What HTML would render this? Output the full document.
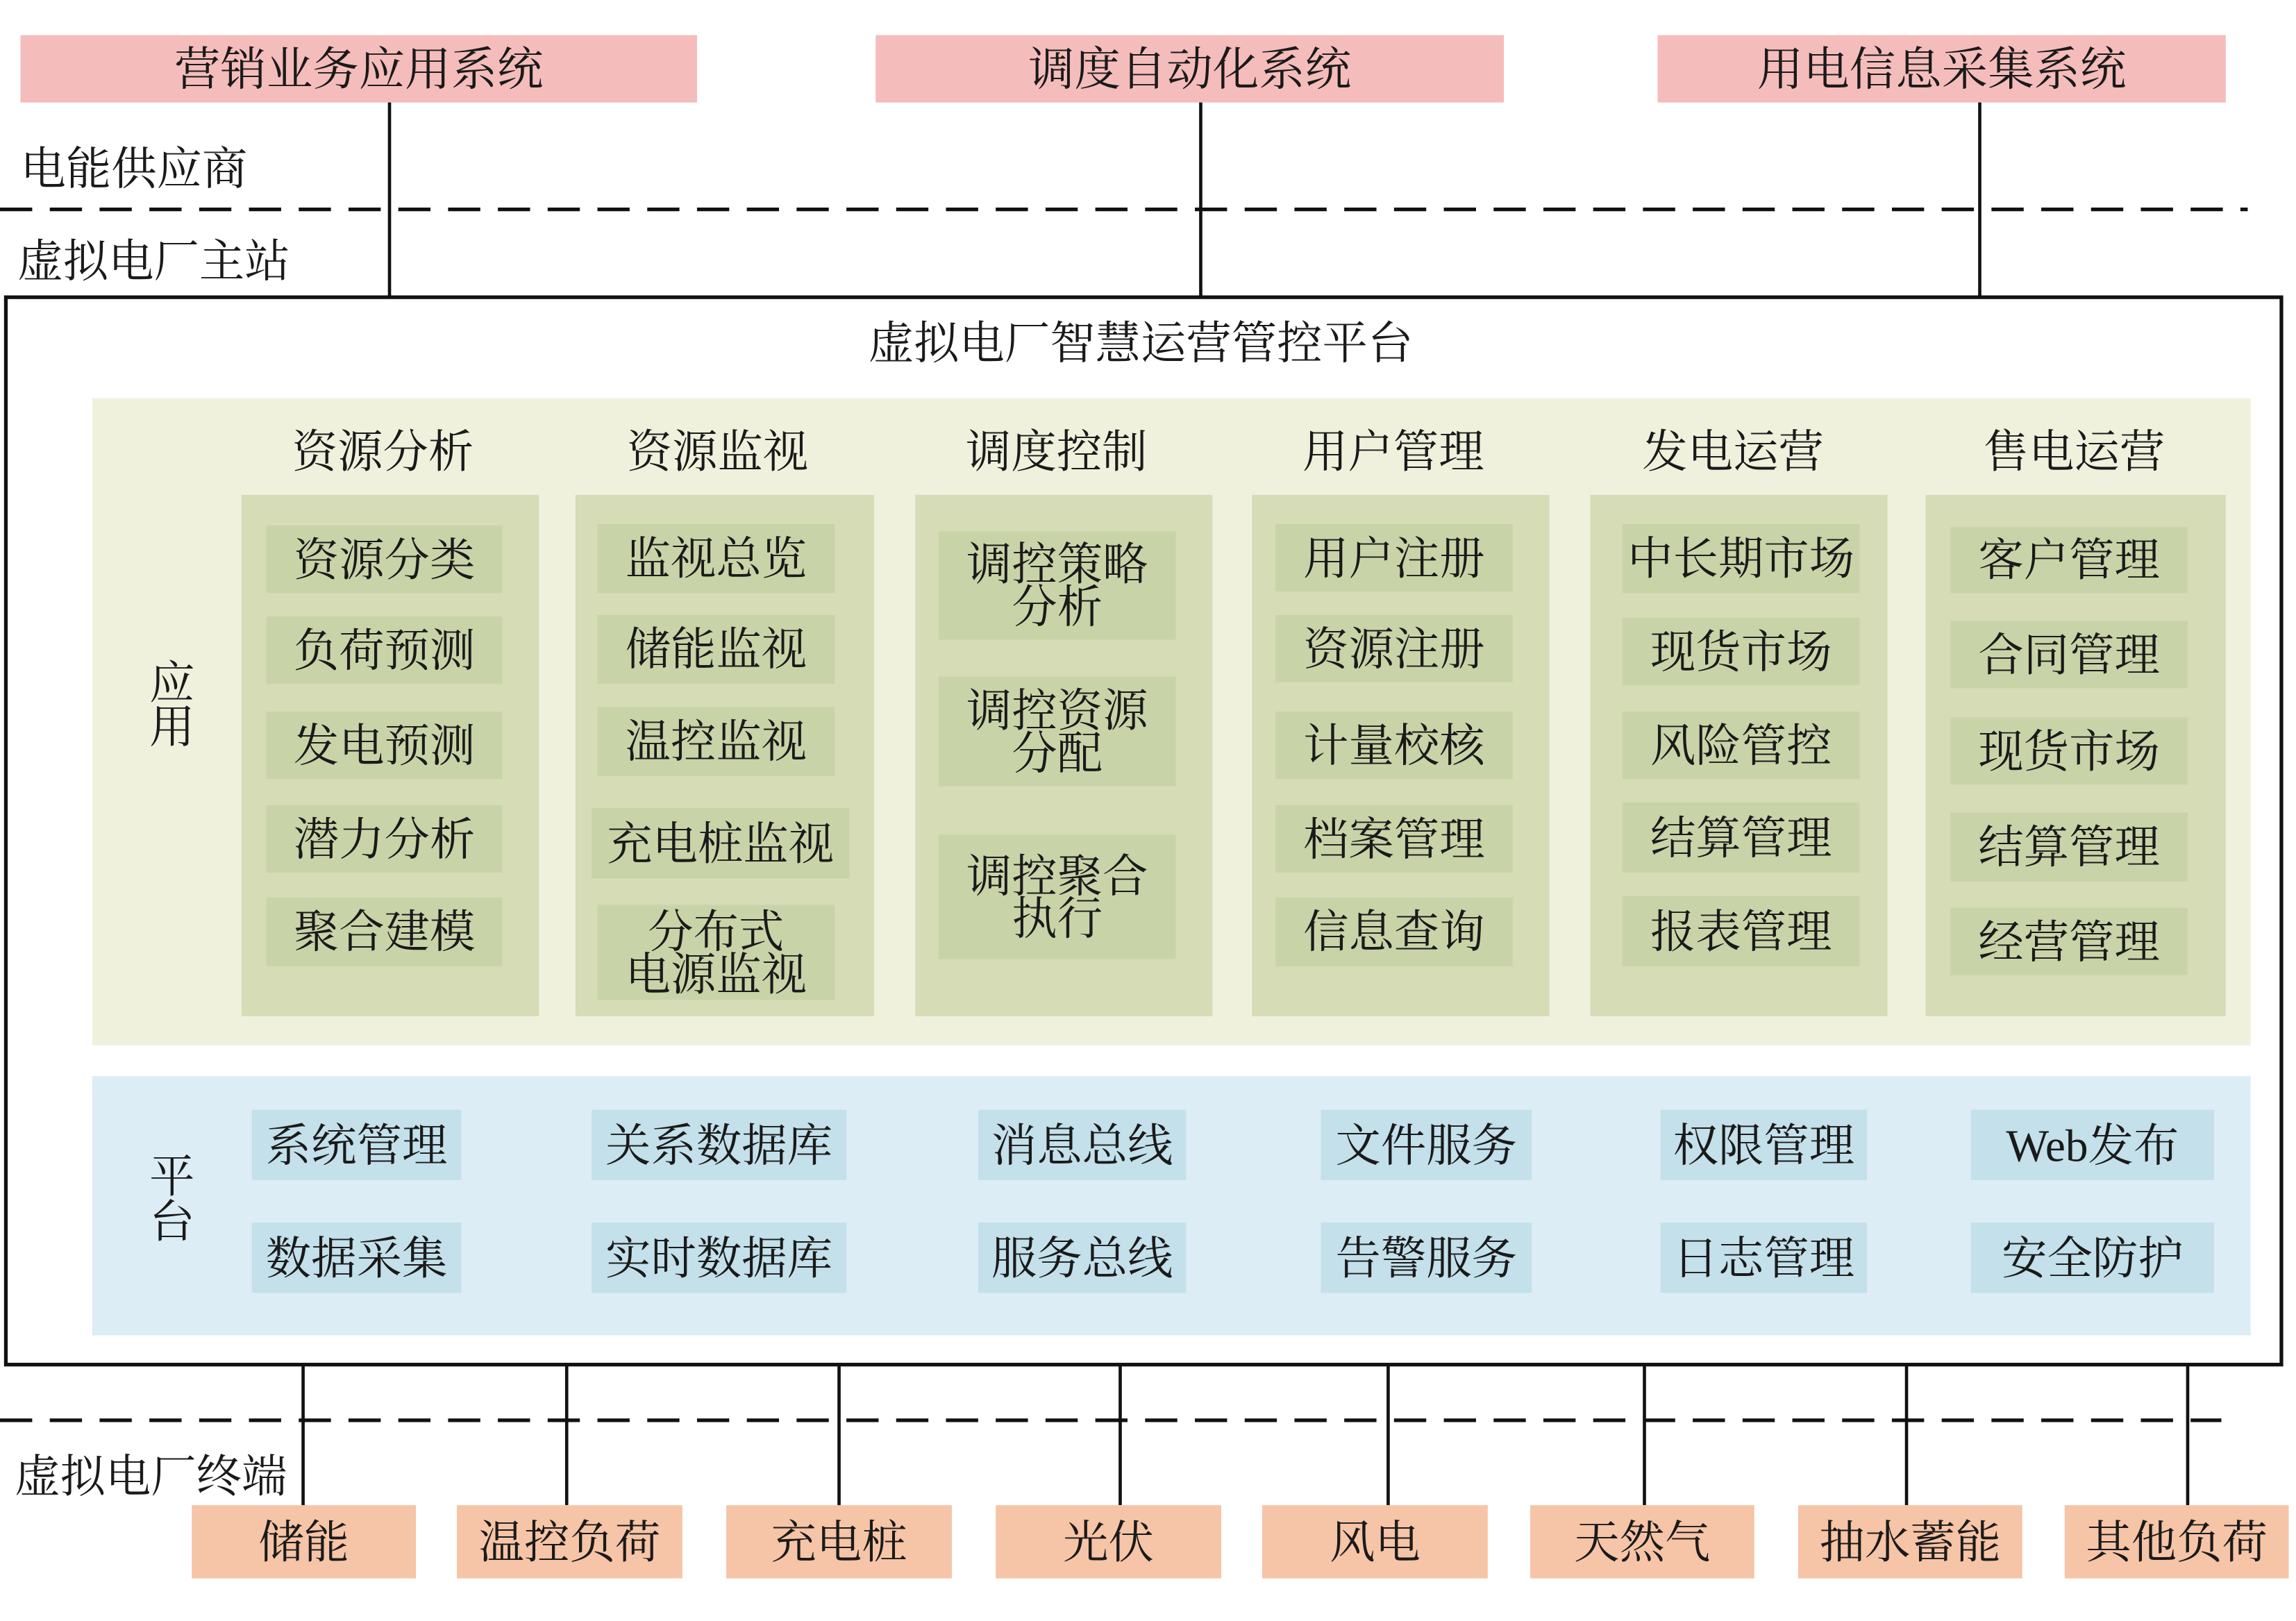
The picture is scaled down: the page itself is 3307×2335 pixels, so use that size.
<!DOCTYPE html>
<html><head><meta charset="utf-8">
<style>
html,body{margin:0;padding:0;background:#fff;width:3307px;height:2334px;overflow:hidden}
#s{position:absolute;left:0;top:0;width:1568px;height:1107px;transform:scale(2.1091);transform-origin:0 0;
font-family:"Liberation Serif","Noto Serif CJK SC",serif;color:#1a1a1a}
.a{position:absolute;box-sizing:border-box}
.t{display:flex;align-items:center;justify-content:center;text-align:center;font-size:31px;line-height:29px}
.top{background:#f5bcbc}
.bot{background:#f6c4a6}
.col{background:#d5dcb6}
.it{background:#c9d3a8}
.pl{background:#c3e0eb}
.lbl{font-size:31px;white-space:nowrap}
</style></head><body><div id="s">
<div class="a t top" style="left:14px;top:24px;width:462px;height:46px;font-size:31.5px">营销业务应用系统</div>
<div class="a t top" style="left:598px;top:24px;width:429px;height:46px;font-size:31.5px">调度自动化系统</div>
<div class="a t top" style="left:1132px;top:24px;width:388px;height:46px;font-size:31.5px">用电信息采集系统</div>

<svg class="a" style="left:0;top:0" width="1568" height="1107">
<g stroke="#111" stroke-width="2.2" fill="none">
<line x1="266" y1="70" x2="266" y2="203"/>
<line x1="820" y1="70" x2="820" y2="203"/>
<line x1="1352" y1="70" x2="1352" y2="203"/>
<line x1="0" y1="143" x2="1535" y2="143" stroke-dasharray="22,12" stroke-width="2.5"/>
<line x1="0" y1="970" x2="1517" y2="970" stroke-dasharray="22,12" stroke-width="2.5"/>
<line x1="207" y1="932" x2="207" y2="1028"/>
<line x1="387" y1="932" x2="387" y2="1028"/>
<line x1="573" y1="932" x2="573" y2="1028"/>
<line x1="765" y1="932" x2="765" y2="1028"/>
<line x1="948" y1="932" x2="948" y2="1028"/>
<line x1="1123" y1="932" x2="1123" y2="1028"/>
<line x1="1302" y1="932" x2="1302" y2="1028"/>
<line x1="1494" y1="932" x2="1494" y2="1028"/>
<rect x="4" y="203" width="1554" height="729" stroke-width="2.5"/>
</g></svg>

<div class="a lbl" style="left:14px;top:90px">电能供应商</div>
<div class="a lbl" style="left:12px;top:153px">虚拟电厂主站</div>
<div class="a lbl" style="left:10px;top:983px">虚拟电厂终端</div>
<div class="a lbl" style="left:0;top:209px;width:1568px;text-align:center;padding-right:10px">虚拟电厂智慧运营管控平台</div>

<div class="a" style="left:63px;top:272px;width:1474px;height:442px;background:#eff1dd"></div>
<div class="a lbl" style="left:102px;top:452px;line-height:30px;width:30px">应<br>用</div>

<div class="a t" style="left:160px;top:294px;width:203px">资源分析</div>
<div class="a t" style="left:388px;top:294px;width:204px">资源监视</div>
<div class="a t" style="left:620px;top:294px;width:203px">调度控制</div>
<div class="a t" style="left:850px;top:294px;width:203px">用户管理</div>
<div class="a t" style="left:1082px;top:294px;width:203px">发电运营</div>
<div class="a t" style="left:1314px;top:294px;width:205px">售电运营</div>

<div class="a col" style="left:165px;top:338px;width:203px;height:356px"></div>
<div class="a col" style="left:393px;top:338px;width:204px;height:356px"></div>
<div class="a col" style="left:625px;top:338px;width:203px;height:356px"></div>
<div class="a col" style="left:855px;top:338px;width:203px;height:356px"></div>
<div class="a col" style="left:1086px;top:338px;width:203px;height:356px"></div>
<div class="a col" style="left:1315px;top:338px;width:205px;height:356px"></div>

<div class="a t it" style="left:182px;top:359px;width:161px;height:46px">资源分类</div>
<div class="a t it" style="left:182px;top:421px;width:161px;height:46px">负荷预测</div>
<div class="a t it" style="left:182px;top:486px;width:161px;height:46px">发电预测</div>
<div class="a t it" style="left:182px;top:550px;width:161px;height:46px">潜力分析</div>
<div class="a t it" style="left:182px;top:613px;width:161px;height:47px">聚合建模</div>

<div class="a t it" style="left:408px;top:358px;width:162px;height:47px">监视总览</div>
<div class="a t it" style="left:408px;top:420px;width:162px;height:47px">储能监视</div>
<div class="a t it" style="left:408px;top:483px;width:162px;height:47px">温控监视</div>
<div class="a t it" style="left:404px;top:552px;width:176px;height:48px">充电桩监视</div>
<div class="a t it" style="left:408px;top:618px;width:162px;height:65px">分布式<br>电源监视</div>

<div class="a t it" style="left:641px;top:363px;width:162px;height:74px">调控策略<br>分析</div>
<div class="a t it" style="left:641px;top:462px;width:162px;height:75px">调控资源<br>分配</div>
<div class="a t it" style="left:641px;top:570px;width:162px;height:85px">调控聚合<br>执行</div>

<div class="a t it" style="left:871px;top:358px;width:162px;height:46px">用户注册</div>
<div class="a t it" style="left:871px;top:420px;width:162px;height:46px">资源注册</div>
<div class="a t it" style="left:871px;top:486px;width:162px;height:46px">计量校核</div>
<div class="a t it" style="left:871px;top:550px;width:162px;height:46px">档案管理</div>
<div class="a t it" style="left:871px;top:613px;width:162px;height:47px">信息查询</div>

<div class="a t it" style="left:1108px;top:358px;width:162px;height:47px">中长期市场</div>
<div class="a t it" style="left:1108px;top:422px;width:162px;height:46px">现货市场</div>
<div class="a t it" style="left:1108px;top:486px;width:162px;height:46px">风险管控</div>
<div class="a t it" style="left:1108px;top:548px;width:162px;height:48px">结算管理</div>
<div class="a t it" style="left:1108px;top:612px;width:162px;height:48px">报表管理</div>

<div class="a t it" style="left:1332px;top:360px;width:162px;height:45px">客户管理</div>
<div class="a t it" style="left:1332px;top:424px;width:162px;height:46px">合同管理</div>
<div class="a t it" style="left:1332px;top:490px;width:162px;height:46px">现货市场</div>
<div class="a t it" style="left:1332px;top:555px;width:162px;height:47px">结算管理</div>
<div class="a t it" style="left:1332px;top:620px;width:162px;height:46px">经营管理</div>

<div class="a" style="left:63px;top:735px;width:1474px;height:177px;background:#dcedf5"></div>
<div class="a lbl" style="left:102px;top:788px;line-height:31px;width:30px">平<br>台</div>
<div class="a t pl" style="left:172px;top:758px;width:143px;height:48px">系统管理</div>
<div class="a t pl" style="left:404px;top:758px;width:174px;height:48px">关系数据库</div>
<div class="a t pl" style="left:668px;top:758px;width:142px;height:48px">消息总线</div>
<div class="a t pl" style="left:902px;top:758px;width:144px;height:48px">文件服务</div>
<div class="a t pl" style="left:1134px;top:758px;width:141px;height:48px">权限管理</div>
<div class="a t pl" style="left:1346px;top:758px;width:166px;height:48px">Web发布</div>
<div class="a t pl" style="left:172px;top:835px;width:143px;height:48px">数据采集</div>
<div class="a t pl" style="left:404px;top:835px;width:174px;height:48px">实时数据库</div>
<div class="a t pl" style="left:668px;top:835px;width:142px;height:48px">服务总线</div>
<div class="a t pl" style="left:902px;top:835px;width:144px;height:48px">告警服务</div>
<div class="a t pl" style="left:1134px;top:835px;width:141px;height:48px">日志管理</div>
<div class="a t pl" style="left:1346px;top:835px;width:166px;height:48px">安全防护</div>

<div class="a t bot" style="left:131px;top:1028px;width:153px;height:50px">储能</div>
<div class="a t bot" style="left:312px;top:1028px;width:154px;height:50px">温控负荷</div>
<div class="a t bot" style="left:496px;top:1028px;width:154px;height:50px">充电桩</div>
<div class="a t bot" style="left:680px;top:1028px;width:154px;height:50px">光伏</div>
<div class="a t bot" style="left:862px;top:1028px;width:154px;height:50px">风电</div>
<div class="a t bot" style="left:1045px;top:1028px;width:153px;height:50px">天然气</div>
<div class="a t bot" style="left:1228px;top:1028px;width:153px;height:50px">抽水蓄能</div>
<div class="a t bot" style="left:1410px;top:1028px;width:153px;height:50px">其他负荷</div>
</div></body></html>
